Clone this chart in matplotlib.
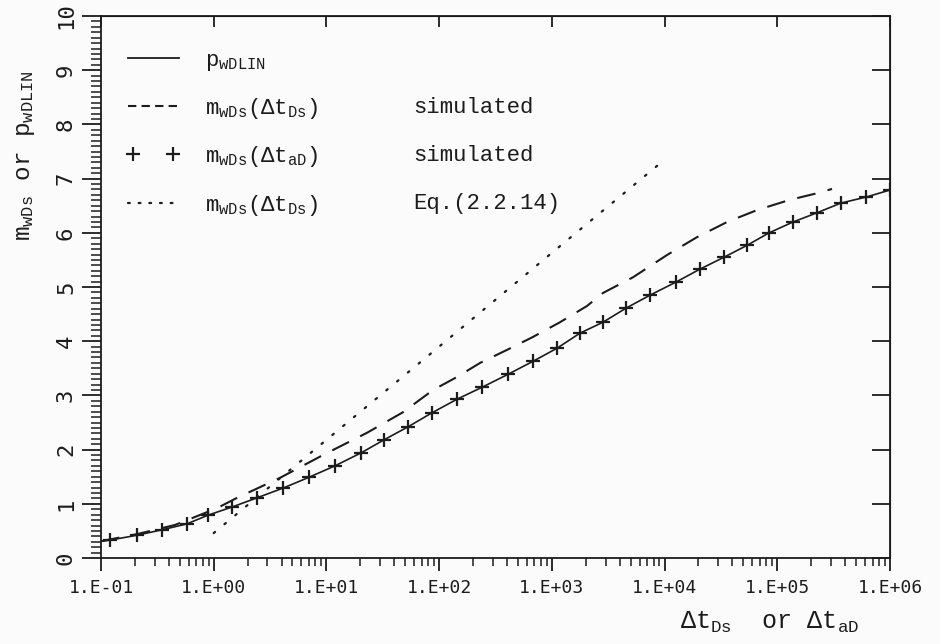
import matplotlib
matplotlib.use("Agg")
import matplotlib.pyplot as plt
from matplotlib.lines import Line2D
from matplotlib.legend_handler import HandlerLine2D

# p_wDLIN line and the m_wDs(dt_aD) crosses share one curve
t_lin = [0.1, 0.120, 0.208, 0.347, 0.579, 0.889, 1.45, 2.42, 4.12, 7.01, 11.9, 20.3,
         32.4, 52.9, 86.5, 144, 240, 409, 681, 1110, 1780, 2840, 4550, 7430,
         12600, 20600, 33700, 54000, 84600, 138000, 225000, 368000, 614000, 1e6]
p_lin = [0.31, 0.33, 0.42, 0.52, 0.63, 0.79, 0.94, 1.11, 1.29, 1.49, 1.70, 1.94,
         2.18, 2.42, 2.68, 2.93, 3.15, 3.39, 3.63, 3.87, 4.15, 4.35, 4.61, 4.85,
         5.09, 5.33, 5.55, 5.77, 6.00, 6.20, 6.37, 6.55, 6.66, 6.79]

t_aD = t_lin[1:]
m_aD = p_lin[1:]

# m_wDs(dt_Ds) simulated
t_ds = [0.1, 0.208, 0.454, 1.07, 1.61, 3.88, 9.33, 22.9, 47.8, 88.3, 144, 231,
        400, 681, 1180, 2050, 2840, 5250, 10500, 19400, 35900, 66200, 130000,
        225000, 306000]
m_ds = [0.31, 0.44, 0.61, 0.92, 1.11, 1.48, 1.90, 2.31, 2.69, 3.10, 3.34, 3.60,
        3.84, 4.08, 4.35, 4.65, 4.89, 5.18, 5.59, 5.92, 6.20, 6.42, 6.61,
        6.73, 6.81]

# Eq.(2.2.14)
t_eq = [1, 10, 100, 1000, 8750]
m_eq = [0.46, 2.18, 3.90, 5.63, 7.25]

xticks = [1e-1, 1e0, 1e1, 1e2, 1e3, 1e4, 1e5, 1e6]
xticklabels = ["1.E-01", "1.E+00", "1.E+01", "1.E+02", "1.E+03", "1.E+04", "1.E+05", "1.E+06"]
yticks = list(range(0, 11))

plt.rcParams['font.family'] = ['Liberation Mono', 'DejaVu Sans']
plt.rcParams['mathtext.fontset'] = 'custom'
plt.rcParams['mathtext.rm'] = 'Liberation Mono'
plt.rcParams['mathtext.it'] = 'Liberation Mono'

ink = '#1c1c1c'
fig = plt.figure(figsize=(9.4, 6.44), dpi=100, facecolor='#fbfbfb')
ax = fig.add_axes([0.1074, 0.1335, 0.8394, 0.8416])
ax.set_facecolor('#fbfbfb')

ax.plot(t_lin, p_lin, color=ink, lw=1.2)
ax.plot(t_aD, m_aD, ls='none', marker='+', ms=10, mew=1.6, color=ink)
ax.plot(t_ds, m_ds, color=ink, lw=1.5, ls=(0, (9, 6)))
ax.plot(t_eq, m_eq, color=ink, lw=1.6, ls=(0, (0.8, 5.5)), dash_capstyle='round')

ax.set_xscale('log')
ax.set_xlim(0.1, 1e6)
ax.set_ylim(0, 10)

for s in ax.spines.values():
    s.set_linewidth(1.3)
    s.set_color(ink)

ax.set_xticks(xticks)
ax.set_xticklabels(xticklabels, fontsize=13, family='DejaVu Sans Mono')
ax.set_yticks(yticks)
ax.set_yticklabels([str(v) for v in yticks], rotation=90, va='center',
                   fontsize=16, family='DejaVu Sans Mono')
ax.yaxis.set_minor_locator(matplotlib.ticker.MultipleLocator(0.1))
ax.xaxis.set_minor_locator(matplotlib.ticker.LogLocator(base=10, subs=range(2, 10)))
ax.xaxis.set_minor_formatter(matplotlib.ticker.NullFormatter())
ax.tick_params(axis='y', which='major', direction='out', length=14, width=1.3, pad=4, colors=ink)
ax.tick_params(axis='y', which='minor', direction='out', length=7, width=1.1, colors=ink)
ax.tick_params(axis='x', which='major', direction='out', length=9, width=1.3, pad=6, colors=ink)
ax.tick_params(axis='x', which='minor', direction='out', length=6, width=1.1, colors=ink)

# inward ticks on the right and top frame
ry = ax.secondary_yaxis('right')
ry.set_yticks(yticks)
ry.set_yticklabels([])
ry.tick_params(direction='in', length=13, width=1.3, colors=ink)
ry.yaxis.set_minor_locator(matplotlib.ticker.NullLocator())
tx = ax.secondary_xaxis('top')
tx.set_xticks(xticks)
tx.set_xticklabels([])
tx.tick_params(direction='in', length=8, width=1.3, colors=ink)
tx.xaxis.set_minor_locator(matplotlib.ticker.NullLocator())

fig.text(0.027, 1 - 156 / 644, r"m$_{\rm wDs}$ or p$_{\rm wDLIN}$", rotation=90,
         ha='center', va='center', fontsize=17.5, color=ink)
fig.text(0.819, 1 - 622 / 644, r"$\Delta$t$_{\rm Ds}$  or $\Delta$t$_{\rm aD}$",
         ha='center', va='center', fontsize=18, color=ink)

handles = [
    Line2D([], [], color=ink, lw=1.3),
    Line2D([], [], color=ink, lw=1.5, ls=(0, (4, 2.5))),
    Line2D([], [], color=ink, ls='none', marker='+', ms=10, mew=1.6),
    Line2D([], [], color=ink, lw=1.6, ls=(0, (0.8, 4)), dash_capstyle='round'),
]
labels = [
    r"p$_{\rm wDLIN}$",
    r"m$_{\rm wDs}$($\Delta$t$_{\rm Ds}$)",
    r"m$_{\rm wDs}$($\Delta$t$_{\rm aD}$)",
    r"m$_{\rm wDs}$($\Delta$t$_{\rm Ds}$)",
]
leg = ax.legend(handles, labels, loc='upper left', bbox_to_anchor=(0.0, 0.975),
                frameon=False, fontsize=16, handlelength=2.9, handletextpad=0.9,
                labelspacing=1.05, numpoints=2, labelcolor=ink,
                handler_map={handles[2]: HandlerLine2D(numpoints=2, marker_pad=0.55)})

fig.canvas.draw()
notes = [None, "simulated", "simulated", "Eq.(2.2.14)"]
inv = fig.transFigure.inverted()
for txt, note in zip(leg.get_texts(), notes):
    if note is None:
        continue
    bb = txt.get_window_extent()
    x0, y0 = inv.transform((413, bb.y0 + bb.height * 0.55))
    fig.text(x0, y0, note, ha='left', va='center', fontsize=16, color=ink)

fig.savefig('out.png', dpi=100, facecolor=fig.get_facecolor())
